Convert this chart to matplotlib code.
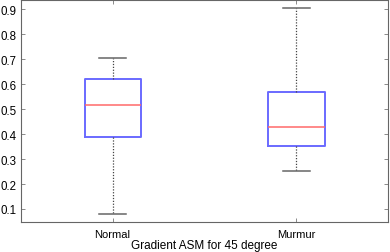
import matplotlib
matplotlib.use("Agg")
import matplotlib.pyplot as plt

# box statistics
categories = ["Normal", "Murmur"]
whisker_low = [0.080, 0.252]
quart_1 = [0.387, 0.352]
medians = [0.515, 0.428]
quart_3 = [0.620, 0.570]
whisker_high = [0.705, 0.905]
ytick_vals = [0.1, 0.2, 0.3, 0.4, 0.5, 0.6, 0.7, 0.8, 0.9]
ytick_labels = ["0.1", "0.2", "0.3", "0.4", "0.5", "0.6", "0.7", "0.8", "0.9"]

plt.rcParams["font.family"] = ["Liberation Sans", "DejaVu Sans"]

stats = []
for i, name in enumerate(categories):
    stats.append(dict(label=name, whislo=whisker_low[i], q1=quart_1[i],
                      med=medians[i], q3=quart_3[i], whishi=whisker_high[i],
                      fliers=[]))

fig = plt.figure(figsize=(3.9, 2.53), dpi=100)
ax = fig.add_axes([0.053, 0.117, 0.943, 0.881])

ax.bxp(stats, positions=[1, 2], widths=0.305, showfliers=False,
       boxprops=dict(color="#6a6aff", linewidth=1.4),
       medianprops=dict(color="#ff6a6a", linewidth=1.1),
       whiskerprops=dict(color="#444444", linewidth=0.9, linestyle=(0, (1, 1.3))),
       capprops=dict(color="#666666", linewidth=1.1),
       capwidths=0.147)

ax.set_xlim(0.5, 2.5)
ax.set_ylim(0.046, 0.94)
ax.set_yticks(ytick_vals)
ax.set_yticklabels(ytick_labels)
ax.set_xticks([1, 2])
ax.set_xticklabels(categories)

ax.tick_params(axis="both", direction="in", length=3, width=0.6,
               color="#777777", top=True, right=True)
ax.tick_params(axis="y", labelsize=8.3, pad=3)
ax.tick_params(axis="x", labelsize=8, pad=4.5)
for sp in ax.spines.values():
    sp.set_color("#666666")
    sp.set_linewidth(0.8)

ax.set_xlabel("Gradient ASM for 45 degree", fontsize=8.5, labelpad=0)

fig.savefig("out.png", dpi=100, facecolor="white")
